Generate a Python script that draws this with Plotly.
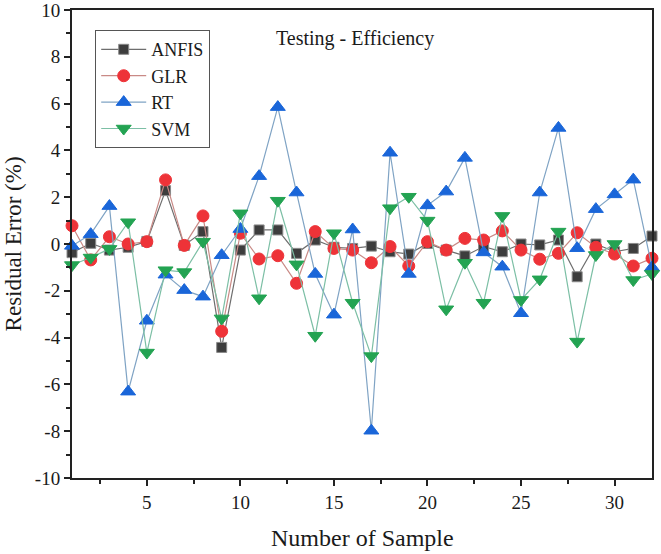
import plotly.graph_objects as go

samples = list(range(1, 33))
x_ticks = [5, 10, 15, 20, 25, 30]
y_ticks = [-10, -8, -6, -4, -2, 0, 2, 4, 6, 8, 10]
y_tick_labels = ["-10", "-8", "-6", "-4", "-2", "0", "2", "4", "6", "8", "10"]

anfis = [-0.37, 0.03, -0.26, -0.14, 0.11, 2.28, -0.06, 0.53, -4.42, -0.26,
         0.60, 0.60, -0.40, 0.17, -0.14, -0.19, -0.09, -0.33, -0.43, 0.02,
         -0.26, -0.51, -0.11, -0.33, 0.00, -0.04, 0.17, -1.40, 0.00, -0.33,
         -0.19, 0.34]
glr = [0.78, -0.68, 0.31, 0.00, 0.10, 2.74, -0.06, 1.20, -3.73, 0.46,
       -0.64, -0.50, -1.68, 0.53, -0.19, -0.26, -0.80, -0.11, -0.94, 0.10,
       -0.26, 0.24, 0.17, 0.56, -0.26, -0.65, -0.40, 0.48, -0.14, -0.43,
       -0.94, -0.61]
rt = [-0.08, 0.42, 1.62, -6.31, -3.28, -1.31, -1.97, -2.25, -0.48, 0.64,
      2.90, 5.85, 2.20, -1.28, -3.02, 0.62, -7.98, 3.90, -1.28, 1.65,
      2.24, 3.68, -0.36, -0.97, -2.96, 2.20, 4.96, -0.18, 1.49, 2.12,
      2.75, -1.00]
svm = [-0.90, -0.58, -0.21, 0.93, -4.64, -1.12, -1.20, 0.10, -3.18, 1.31,
       -2.32, 1.85, -0.87, -3.92, 0.46, -2.51, -4.79, 1.53, 2.02, 1.00,
       -2.79, -0.80, -2.51, 1.20, -2.39, -1.51, 0.53, -4.17, -0.47, 0.00,
       -1.54, -1.28]

series = [
    ("ANFIS", anfis, "square", 10, "#3d3d3d", "#8a8a8a", "#6e6e6e"),
    ("GLR", glr, "circle", 12, "#ee3338", "#ee3338", "#c98a86"),
    ("RT", rt, "triangle-up", 13, "#1a66d9", "#1a66d9", "#7fa3c4"),
    ("SVM", svm, "triangle-down", 13, "#23a352", "#23a352", "#7cbfa5"),
]

fig = go.Figure()
for name, vals, sym, size, fill, edge, lcol in series:
    fig.add_trace(go.Scatter(
        x=samples, y=vals, name=name, mode="lines+markers",
        line=dict(color=lcol, width=1.2),
        marker=dict(symbol=sym, size=size, color=fill,
                    line=dict(color=edge, width=1)),
        cliponaxis=False,
    ))

font = "Liberation Serif, Times New Roman, serif"
fig.update_layout(
    width=661, height=554,
    margin=dict(l=72, r=9, t=10, b=76, autoexpand=False),
    paper_bgcolor="white", plot_bgcolor="white",
    font=dict(family=font, size=16, color="#1a1a1a"),
    showlegend=True,
    legend=dict(x=0.04, y=0.957, xanchor="left", yanchor="top",
                bordercolor="#555555", borderwidth=1, bgcolor="white",
                font=dict(family=font, size=18, color="#1a1a1a"),
                itemwidth=45, tracegroupgap=0),
    annotations=[
        dict(text="Testing - Efficiency", x=0.348, y=0.940,
             xref="paper", yref="paper", xanchor="left",
             yanchor="middle", showarrow=False,
             font=dict(family=font, size=20, color="#1a1a1a")),
        dict(text="Number of Sample", x=0.5, y=-0.128,
             xref="paper", yref="paper", xanchor="center",
             yanchor="middle", showarrow=False,
             font=dict(family=font, size=24, color="#1a1a1a")),
        dict(text="Residual Error (%)", x=-0.101, y=0.5, textangle=-90,
             xref="paper", yref="paper", xanchor="center",
             yanchor="middle", showarrow=False,
             font=dict(family=font, size=23, color="#1a1a1a")),
    ],
)
fig.update_xaxes(
    range=[1, 32], tickmode="array", tickvals=x_ticks,
    ticks="outside", ticklen=6, tickwidth=2, tickcolor="#222",
    minor=dict(tickmode="array", tickvals=[2.5, 7.5, 12.5, 17.5, 22.5, 27.5],
               ticks="outside", ticklen=4, tickwidth=2, tickcolor="#222"),
    showline=True, linecolor="#222", linewidth=2, mirror=True,
    showgrid=False, zeroline=False, automargin=False,
    ticklabeloverflow="allow",
    tickfont=dict(family=font, size=19),
)
fig.update_yaxes(
    range=[-10, 10], tickmode="array", tickvals=y_ticks, ticktext=y_tick_labels,
    ticks="outside", ticklen=6, tickwidth=2, tickcolor="#222",
    minor=dict(tickmode="linear", tick0=1, dtick=2, ticks="outside",
               ticklen=4, tickwidth=2, tickcolor="#222"),
    showline=True, linecolor="#222", linewidth=2, mirror=True,
    showgrid=False, zeroline=False, automargin=False,
    ticklabeloverflow="allow",
    tickfont=dict(family=font, size=19),
)
fig.write_html("out.html", config={"displayModeBar": False},
               post_script="document.body.style.margin='0px';")
